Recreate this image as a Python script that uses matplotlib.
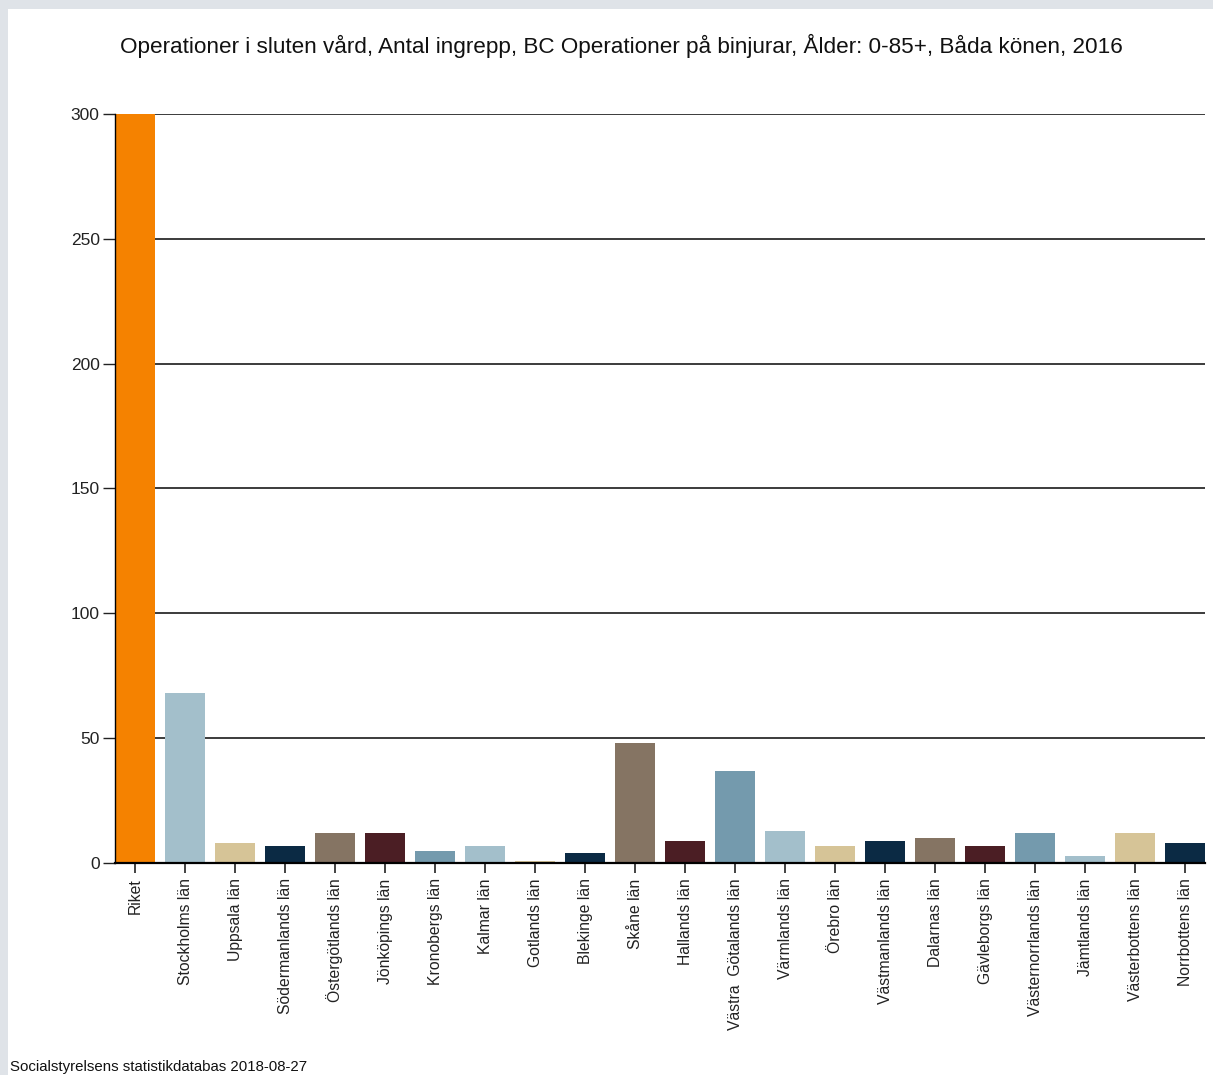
import matplotlib.pyplot as plt
from matplotlib.patches import Rectangle

plt.rcParams['font.family'] = ['Liberation Sans', 'DejaVu Sans']

lan = ["Riket", "Stockholms län", "Uppsala län", "Södermanlands län",
       "Östergötlands län", "Jönköpings län", "Kronobergs län", "Kalmar län",
       "Gotlands län", "Blekinge län", "Skåne län", "Hallands län",
       "Västra  Götalands län", "Värmlands län", "Örebro län",
       "Västmanlands län", "Dalarnas län", "Gävleborgs län",
       "Västernorrlands län", "Jämtlands län", "Västerbottens län",
       "Norrbottens län"]
antal = [300, 68, 8, 7, 12, 12, 5, 7, 1, 4, 48, 9, 37, 13, 7, 9, 10, 7, 12, 3, 12, 8]
yticks = [0, 50, 100, 150, 200, 250, 300]

riket_farg = "#F58200"
palett = ["#A3BFCB", "#D6C497", "#0B2A44", "#857463", "#4B1E24", "#749AAD"]
farger = [riket_farg] + [palett[i % len(palett)] for i in range(len(lan) - 1)]

W, H = 1213, 1075
fig = plt.figure(figsize=(W / 100, H / 100), dpi=100, facecolor="#DFE3E8")
# vit panel innanför den grå ramen
fig.patches.append(Rectangle((8 / W, 0), 1, 1 - 9 / H, transform=fig.transFigure,
                             facecolor="white", edgecolor="none", zorder=-10))

ax = fig.add_axes([115 / W, (H - 863) / H, 1090 / W, 749 / H])
ax.set_facecolor("none")

x = range(len(lan))
ax.bar(x, antal, width=0.8, color=farger, zorder=3)

ax.set_xlim(-0.4, len(lan) - 1 + 0.4)
ax.set_ylim(0, 300)
ax.set_yticks(yticks)
ax.set_yticklabels([str(v) for v in yticks], fontsize=12.5, color="#222222")
ax.set_xticks(list(x))
ax.set_xticklabels(lan, rotation=90, fontsize=11.3, color="#222222")

for v in yticks[1:]:
    ax.axhline(v, color="#1a1a1a", lw=1.2, zorder=1)

ax.tick_params(axis="y", length=9, width=1, pad=2, color="#222222")
ax.tick_params(axis="x", length=7, width=1.2, pad=4, color="#222222")

for s in ["top", "right"]:
    ax.spines[s].set_visible(False)
ax.spines["left"].set_linewidth(1)
ax.spines["bottom"].set_linewidth(1.6)
ax.spines["bottom"].set_zorder(4)
ax.spines["left"].set_zorder(4)

fig.text(621 / W, 1 - 46 / H,
         "Operationer i sluten vård, Antal ingrepp, BC Operationer på binjurar, "
         "Ålder: 0-85+, Båda könen, 2016",
         ha="center", va="center", fontsize=16.2, color="#111111")

fig.text(10 / W, 1 - 1074 / H, "Socialstyrelsens statistikdatabas 2018-08-27",
         ha="left", va="bottom", fontsize=10.8, color="#111111")

fig.savefig("out.png", dpi=100, facecolor=fig.get_facecolor())
